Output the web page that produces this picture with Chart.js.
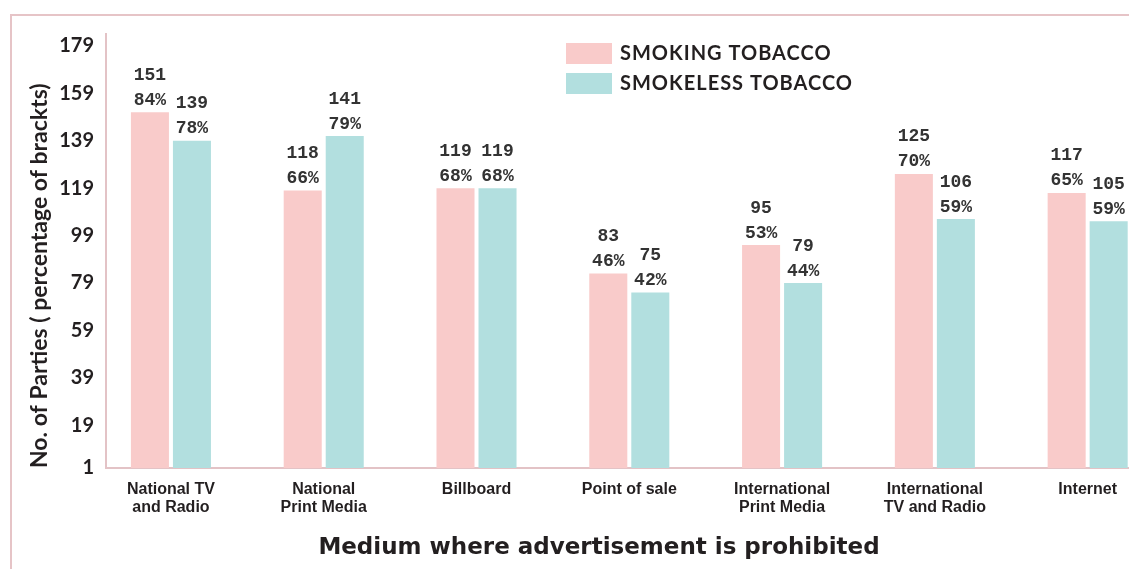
<!DOCTYPE html>
<html>
<head>
<meta charset="utf-8">
<title>Advertising bans by medium</title>
<script src="https://cdn.jsdelivr.net/npm/chart.js@4.4.1/dist/chart.umd.min.js"></script>
<style>
  html, body { margin: 0; padding: 0; background: #fff; overflow: hidden; }
  #wrap { position: relative; width: 1129px; height: 569px; }
  #frame { position: absolute; left: 10px; top: 14px; width: 1400px; height: 800px;
           border-top: 2px solid #e6c4c7; border-left: 2px solid #e6c4c7; }
  #chart { position: absolute; left: 0; top: 0; }
</style>
</head>
<body>
<div id="wrap">
  <div id="frame"></div>
  <canvas id="chart" width="1129" height="569"></canvas>
</div>
<script>
const categories = [
  ['National TV', 'and Radio'],
  ['National', 'Print Media'],
  ['Billboard'],
  ['Point of sale'],
  ['International', 'Print Media'],
  ['International', 'TV and Radio'],
  ['Internet']
];
const smoking = [151, 118, 119, 83, 95, 125, 117];
const smokingPct = [84, 66, 68, 46, 53, 70, 65];
const smokeless = [139, 141, 119, 75, 79, 106, 105];
const smokelessPct = [78, 79, 68, 42, 44, 59, 59];
const yTicks = [1, 19, 39, 59, 79, 99, 119, 139, 159, 179];
const xTitle = 'Medium where advertisement is prohibited';

const PINK = '#f9cbca';
const TEAL = '#b2dfdf';
const AXIS = '#e3c3c6';
const INK = '#231f20';

// count on top, share in brackets below, centred over each bar
const barLabels = {
  id: 'barLabels',
  afterDatasetsDraw(chart) {
    const { ctx } = chart;
    const sets = [[smoking, smokingPct], [smokeless, smokelessPct]];
    ctx.save();
    ctx.font = 'bold 18px "Liberation Mono", monospace';
    ctx.fillStyle = '#333';
    ctx.textAlign = 'center';
    ctx.textBaseline = 'middle';
    chart.data.datasets.forEach((ds, d) => {
      chart.getDatasetMeta(d).data.forEach((bar, i) => {
        ctx.fillText(String(sets[d][0][i]), bar.x, bar.y - 37);
        ctx.fillText(sets[d][1][i] + '%', bar.x, bar.y - 12);
      });
    });
    ctx.restore();
  }
};

// legend sits inside the plot, top right
const boxLegend = {
  id: 'boxLegend',
  afterDraw(chart) {
    const { ctx } = chart;
    ctx.save();
    ctx.font = 'bold 20px Lato, sans-serif';
    ctx.letterSpacing = '1px';
    ctx.textBaseline = 'middle';
    chart.data.datasets.forEach((ds, d) => {
      const y = 43 + d * 30;
      ctx.fillStyle = ds.backgroundColor;
      ctx.fillRect(566, y, 46, 21);
      ctx.fillStyle = INK;
      ctx.fillText(ds.label, 620, y + 11);
    });
    ctx.restore();
  }
};

// x axis title, a little left of the plot centre since the last group runs off the edge
const bottomTitle = {
  id: 'bottomTitle',
  afterDraw(chart) {
    const { ctx } = chart;
    ctx.save();
    ctx.font = 'bold 23px "DejaVu Sans", sans-serif';
    ctx.fillStyle = INK;
    ctx.textAlign = 'center';
    ctx.textBaseline = 'middle';
    ctx.fillText(xTitle, 599, 548);
    ctx.restore();
  }
};

new Chart(document.getElementById('chart'), {
  type: 'bar',
  data: {
    datasets: [
      { label: 'SMOKING TOBACCO', data: smoking.map((v, i) => ({ x: i, y: v })), backgroundColor: PINK },
      { label: 'SMOKELESS TOBACCO', data: smokeless.map((v, i) => ({ x: i, y: v })), backgroundColor: TEAL }
    ]
  },
  options: {
    responsive: false,
    animation: false,
    categoryPercentage: 0.55,
    barPercentage: 0.905,
    layout: { padding: { left: 22, top: 34, right: 0, bottom: 0 } },
    plugins: { legend: { display: false }, tooltip: { enabled: false } },
    scales: {
      x: {
        type: 'linear',
        min: -0.425,
        max: 6.27,
        offset: false,
        grid: { display: false, drawTicks: false },
        border: { color: AXIS, width: 2 },
        afterBuildTicks: (s) => { s.ticks = categories.map((_, i) => ({ value: i })); },
        afterFit: (s) => { s.height = 101; },
        ticks: {
          autoSkip: false,
          maxRotation: 0,
          padding: 12,
          color: INK,
          font: { family: '"Liberation Sans", Arial, sans-serif', size: 16, weight: 'bold', lineHeight: 1.15 },
          callback: (v) => categories[v]
        }
      },
      y: {
        min: 1,
        max: 184,
        grid: { display: false, drawTicks: false },
        border: { color: AXIS, width: 2 },
        afterBuildTicks: (s) => { s.ticks = yTicks.map(v => ({ value: v })); },
        afterFit: (s) => { s.width = 84; },
        ticks: {
          padding: 12,
          color: INK,
          font: { family: 'Lato, sans-serif', size: 20, weight: 'bold' }
        },
        title: {
          display: true,
          align: 'start',
          text: 'No. of Parties ( percentage of brackts)',
          color: INK,
          font: { family: 'Lato, sans-serif', size: 23, weight: 'bold' },
          padding: { top: 4, bottom: 0 }
        }
      }
    }
  },
  plugins: [barLabels, boxLegend, bottomTitle]
});
</script>
</body>
</html>
